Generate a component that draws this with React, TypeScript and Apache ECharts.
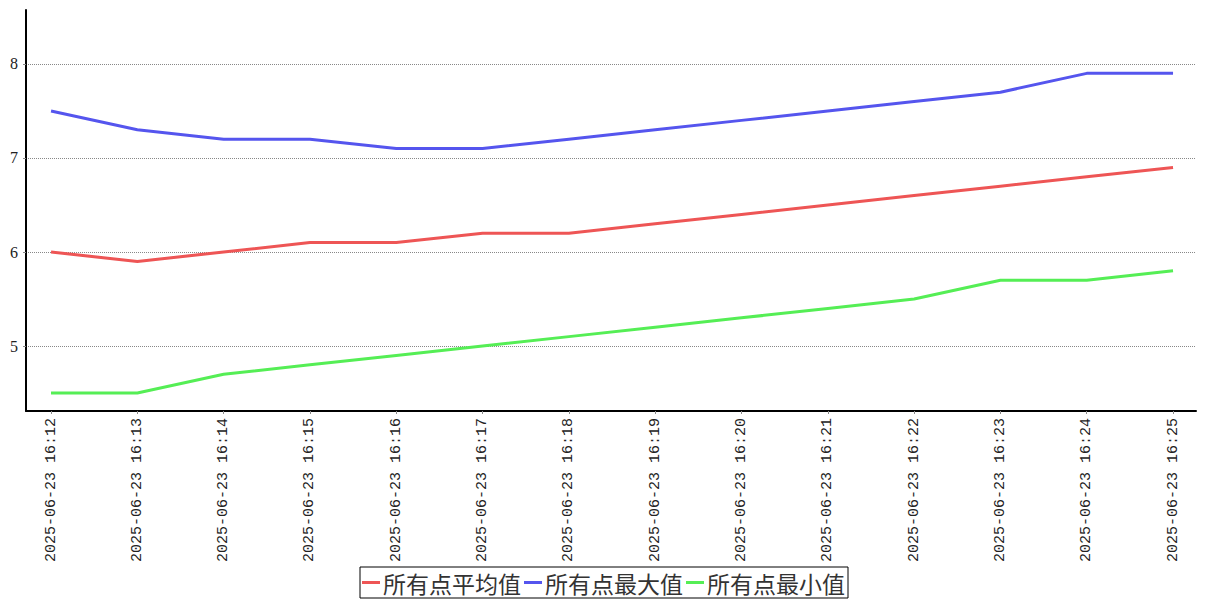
import React, { useEffect, useRef } from "react";
import * as echarts from "echarts";

const categories = [
  "2025-06-23 16:12", "2025-06-23 16:13", "2025-06-23 16:14", "2025-06-23 16:15",
  "2025-06-23 16:16", "2025-06-23 16:17", "2025-06-23 16:18", "2025-06-23 16:19",
  "2025-06-23 16:20", "2025-06-23 16:21", "2025-06-23 16:22", "2025-06-23 16:23",
  "2025-06-23 16:24", "2025-06-23 16:25",
];
const avgValues = [6.0, 5.9, 6.0, 6.1, 6.1, 6.2, 6.2, 6.3, 6.4, 6.5, 6.6, 6.7, 6.8, 6.9];
const maxValues = [7.5, 7.3, 7.2, 7.2, 7.1, 7.1, 7.2, 7.3, 7.4, 7.5, 7.6, 7.7, 7.9, 7.9];
const minValues = [4.5, 4.5, 4.7, 4.8, 4.9, 5.0, 5.1, 5.2, 5.3, 5.4, 5.5, 5.7, 5.7, 5.8];
const yTicks = [5, 6, 7, 8];
const seriesNames = ["所有点平均值", "所有点最大值", "所有点最小值"];

export default function App() {
  const ref = useRef<HTMLDivElement>(null);
  useEffect(() => {
    if (!ref.current) return;
    const chart = echarts.init(ref.current, undefined, { renderer: "svg" });
    const idx = categories.map((_, i) => i);
    const mk = (vals: number[]) => vals.map((v, i) => [i, v]);
    chart.setOption({
      animation: false,
      grid: { left: 26, right: 11, top: 10, bottom: 189, containLabel: false },
      legend: {
        top: 567,
        left: "center",
        itemWidth: 18,
        itemHeight: 3,
        itemGap: 3,
        padding: [3, 3, 3, 2],
        borderColor: "#000",
        borderWidth: 1,
        icon: "rect",
        textStyle: { fontSize: 23, lineHeight: 25, color: "#333", fontFamily: "Noto Sans CJK SC", padding: [0, 0, 0, -2] },
        data: seriesNames,
      },
      xAxis: {
        type: "value",
        min: -0.29,
        max: 13.266,
        axisLine: { show: true, onZero: false, lineStyle: { color: "#000", width: 2 } },
        axisTick: { show: true, customValues: idx, length: 3, lineStyle: { color: "#888" } },
        axisLabel: {
          customValues: idx,
          rotate: 90,
          margin: 7,
          fontSize: 15,
          fontFamily: "Liberation Mono",
          color: "#222",
          hideOverlap: false,
          formatter: (v: number) => categories[Math.round(v)] ?? "",
        },
        splitLine: { show: false },
      },
      yAxis: {
        type: "value",
        min: 4.309,
        max: 8.574,
        axisLine: { show: true, onZero: false, lineStyle: { color: "#000", width: 2 } },
        axisTick: { show: true, customValues: yTicks, length: 3, lineStyle: { color: "#888" } },
        axisLabel: {
          customValues: yTicks,
          margin: 8,
          fontSize: 16,
          fontFamily: "Liberation Serif",
          color: "#222",
        },
        splitLine: { show: true, lineStyle: { color: "#888", type: "dotted", width: 1 } },
      },
      series: [
        { name: seriesNames[0], type: "line", data: mk(avgValues), showSymbol: false, symbol: "none", lineStyle: { width: 3, color: "#EE5555" }, itemStyle: { color: "#EE5555" } },
        { name: seriesNames[1], type: "line", data: mk(maxValues), showSymbol: false, symbol: "none", lineStyle: { width: 3, color: "#5555EE" }, itemStyle: { color: "#5555EE" } },
        { name: seriesNames[2], type: "line", data: mk(minValues), showSymbol: false, symbol: "none", lineStyle: { width: 3, color: "#55EE55" }, itemStyle: { color: "#55EE55" } },
      ],
    });
    return () => chart.dispose();
  }, []);
  return <div ref={ref} style={{ position: "absolute", left: 0, top: 0, width: 1207, height: 600 }} />;
}
